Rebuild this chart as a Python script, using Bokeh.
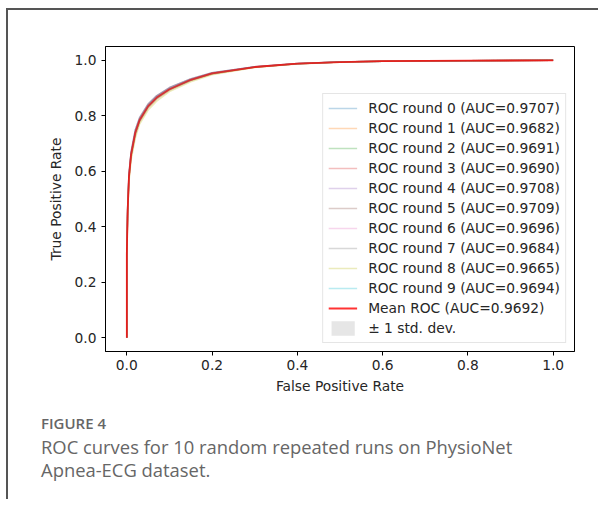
from bokeh.plotting import figure
from bokeh.models import Legend, LegendItem, Div, FixedTicker, PrintfTickFormatter
from bokeh.layouts import column
from bokeh.embed import file_html
from bokeh.resources import INLINE

# ---- data ----
fpr = [0.0, 0.0, 0.002, 0.005, 0.01, 0.02, 0.03, 0.05, 0.07, 0.1, 0.15, 0.2, 0.3, 0.4, 0.5, 0.6, 0.8, 1.0]

round0 = [0.0, 0.31, 0.47, 0.59, 0.67, 0.75, 0.792, 0.842, 0.872, 0.901, 0.933, 0.955, 0.977, 0.989, 0.994, 0.997, 0.999, 1.0]
round1 = [0.0, 0.29, 0.45, 0.57, 0.65, 0.73, 0.778, 0.828, 0.860, 0.892, 0.927, 0.951, 0.975, 0.988, 0.994, 0.997, 0.999, 1.0]
round2 = [0.0, 0.30, 0.46, 0.58, 0.66, 0.74, 0.784, 0.834, 0.865, 0.896, 0.930, 0.953, 0.976, 0.988, 0.994, 0.997, 0.999, 1.0]
round3 = [0.0, 0.30, 0.46, 0.58, 0.66, 0.74, 0.783, 0.833, 0.864, 0.896, 0.929, 0.953, 0.976, 0.988, 0.994, 0.997, 0.999, 1.0]
round4 = [0.0, 0.31, 0.47, 0.59, 0.67, 0.75, 0.793, 0.842, 0.872, 0.902, 0.933, 0.955, 0.977, 0.989, 0.994, 0.997, 0.999, 1.0]
round5 = [0.0, 0.31, 0.47, 0.59, 0.67, 0.75, 0.794, 0.843, 0.873, 0.902, 0.934, 0.955, 0.977, 0.989, 0.994, 0.997, 0.999, 1.0]
round6 = [0.0, 0.30, 0.46, 0.58, 0.66, 0.74, 0.787, 0.837, 0.868, 0.898, 0.931, 0.954, 0.976, 0.988, 0.994, 0.997, 0.999, 1.0]
round7 = [0.0, 0.29, 0.45, 0.57, 0.65, 0.73, 0.779, 0.830, 0.861, 0.893, 0.927, 0.951, 0.975, 0.988, 0.994, 0.997, 0.999, 1.0]
round8 = [0.0, 0.28, 0.44, 0.56, 0.64, 0.72, 0.770, 0.821, 0.853, 0.887, 0.923, 0.948, 0.974, 0.987, 0.993, 0.997, 0.999, 1.0]
round9 = [0.0, 0.30, 0.46, 0.58, 0.66, 0.74, 0.786, 0.836, 0.867, 0.897, 0.930, 0.953, 0.976, 0.988, 0.994, 0.997, 0.999, 1.0]

mean_tpr = [0.0, 0.30, 0.46, 0.58, 0.66, 0.74, 0.785, 0.835, 0.866, 0.896, 0.930, 0.953, 0.976, 0.988, 0.994, 0.997, 0.999, 1.0]
std_tpr = [0.0, 0.01, 0.01, 0.01, 0.01, 0.01, 0.008, 0.007, 0.006, 0.005, 0.004, 0.003, 0.001, 0.001, 0.001, 0.0, 0.0, 0.0]

round_labels = ["ROC round 0 (AUC=0.9707)", "ROC round 1 (AUC=0.9682)", "ROC round 2 (AUC=0.9691)",
                "ROC round 3 (AUC=0.9690)", "ROC round 4 (AUC=0.9708)", "ROC round 5 (AUC=0.9709)",
                "ROC round 6 (AUC=0.9696)", "ROC round 7 (AUC=0.9684)", "ROC round 8 (AUC=0.9665)",
                "ROC round 9 (AUC=0.9694)"]
mean_label = "Mean ROC (AUC=0.9692)"
std_label = "\u00b1 1 std. dev."
ticks = [0.0, 0.2, 0.4, 0.6, 0.8, 1.0]

colors = ["#1f77b4", "#ff7f0e", "#2ca02c", "#d62728", "#9467bd",
          "#8c564b", "#e377c2", "#7f7f7f", "#bcbd22", "#17becf"]
rounds = [round0, round1, round2, round3, round4, round5, round6, round7, round8, round9]

FONT = "DejaVu Sans"
FS = "13.8px"

p = figure(width=580, height=391, output_backend="svg", toolbar_location=None,
           x_range=(-0.05, 1.05), y_range=(-0.05, 1.05),
           min_border_left=97, min_border_right=14, min_border_top=36, min_border_bottom=50)
p.xgrid.visible = False
p.ygrid.visible = False
p.outline_line_color = "black"
p.outline_line_width = 1

for ax in (p.xaxis[0], p.yaxis[0]):
    ax.ticker = FixedTicker(ticks=ticks)
    ax.formatter = PrintfTickFormatter(format="%.1f")
    ax.major_label_text_font = FONT
    ax.major_label_text_font_size = FS
    ax.major_label_text_color = "#262626"
    ax.axis_label_text_font = FONT
    ax.axis_label_text_font_size = FS
    ax.axis_label_text_font_style = "normal"
    ax.axis_label_text_color = "#262626"
    ax.axis_line_color = "black"
    ax.major_tick_line_color = "black"
    ax.major_tick_out = 4
    ax.major_tick_in = 0
    ax.minor_tick_line_color = None
p.xaxis.axis_label = "False Positive Rate"
p.yaxis.axis_label = "True Positive Rate"
p.xaxis.axis_label_standoff = 5
p.yaxis.axis_label_standoff = 8
p.xaxis.major_label_standoff = 4
p.yaxis.major_label_standoff = 5

items = []
for i, (r, c) in enumerate(zip(rounds, colors)):
    gl = p.line(fpr, r, line_color=c, line_alpha=0.3, line_width=1.5)
    items.append(LegendItem(label=round_labels[i], renderers=[gl]))

ml = p.line(fpr, mean_tpr, line_color="#ff0000", line_alpha=0.8, line_width=1.8)
items.append(LegendItem(label=mean_label, renderers=[ml]))

upper = [min(m + s, 1.0) for m, s in zip(mean_tpr, std_tpr)]
lower = [max(m - s, 0.0) for m, s in zip(mean_tpr, std_tpr)]
band = p.varea(x=fpr, y1=lower, y2=upper, fill_color="grey", fill_alpha=0.2)
items.append(LegendItem(label=std_label, renderers=[band]))

legend = Legend(items=items, location="bottom_right")
legend.label_text_font = FONT
legend.label_text_font_size = FS
legend.label_text_color = "#262626"
legend.glyph_width = 29
legend.glyph_height = 18
legend.label_height = 18
legend.label_standoff = 11
legend.spacing = 2
legend.padding = 5
legend.margin = 8
legend.border_line_color = "#cccccc"
legend.background_fill_alpha = 0.8
p.add_layout(legend)

caption = Div(width=580, height=88, text=(
    '<div style="padding-left:28px;padding-top:9px;font-family:\'Open Sans\',sans-serif;">'
    '<div style="font-size:15px;line-height:16px;color:#666;font-weight:600;">FIGURE 4</div>'
    '<div style="font-size:18.4px;line-height:23px;color:#666;margin-top:4px;">'
    'ROC curves for 10 random repeated runs on PhysioNet<br>Apnea-ECG dataset.</div></div>'))

layout = column(p, caption, styles={"border-top": "2px solid #555", "border-left": "2px solid #555",
                                    "margin-left": "6px", "margin-top": "8px"})

open("out.html", "w").write(file_html(layout, INLINE))
